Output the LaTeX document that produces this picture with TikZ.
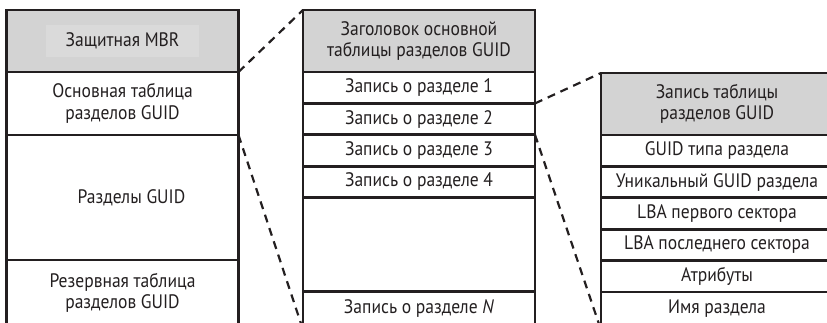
\documentclass[tikz,border=0pt]{standalone}
\usepackage{fontspec}
\setmainfont{PT Sans}[FakeStretch=0.9]
\usepackage{tikz}
\usetikzlibrary{positioning}
\definecolor{ink}{HTML}{231F20}
\definecolor{hdrgray}{HTML}{D3D3D3}
\definecolor{lblgray}{HTML}{DADADA}

\begin{document}
\begin{tikzpicture}[
  x=1pt, y=-1pt,
  cell/.style={rectangle, draw=ink, line width=2.8pt, minimum width=232pt, inner sep=0pt, outer sep=0pt,
    align=center, text=ink, font=\fontsize{19.5}{21.5}\selectfont},
  hdr/.style={cell, fill=hdrgray, minimum height=62pt},
  rec/.style={cell, minimum height=31.4pt},
  zoom/.style={dashed, draw=ink, line width=2.2pt, dash pattern=on 8pt off 6pt},
  node distance=0pt
]
\path[use as bounding box, clip] (0,0) rectangle (827,322);

% GPT disk
\node[hdr] at (122.5,41) (mbr) {};
\node[fill=lblgray, minimum width=153pt, minimum height=32pt, inner sep=0pt, text=ink,
  font=\fontsize{19.5}{21.5}\selectfont] at (mbr) (mbrlbl) {Защитная MBR};
\node[cell, minimum height=63pt, below=of mbr]   (prim)  {Основная таблица\\разделов GUID};
\node[cell, minimum height=125pt, below=of prim] (parts) {\hspace*{18pt}Разделы GUID};
\node[cell, minimum height=68pt, below=of parts, text depth=6pt] (bkp) {Резервная таблица\\разделов GUID};

% GUID partition table
\node[hdr] at (419,41) (thdr) {Заголовок основной\\таблицы разделов GUID};
\node[rec, below=of thdr] (e1) {Запись о разделе 1};
\node[rec, below=of e1]   (e2) {Запись о разделе 2};
\node[rec, below=of e2]   (e3) {Запись о разделе 3};
\node[rec, below=of e3]   (e4) {Запись о разделе 4};
\node[cell, minimum height=94pt, below=of e4] (egap) {};
\node[cell, minimum height=38pt, below=of egap, text depth=8pt] (eN) {Запись о разделе \textit{N}};

% partition entry
\node[hdr] at (717,104) (phdr) {Запись таблицы\\разделов GUID};
\node[rec, below=of phdr] (ptype) {GUID типа раздела};
\node[rec, below=of ptype] (puniq) {Уникальный GUID раздела};
\node[rec, below=of puniq] (pfirst) {LBA первого сектора};
\node[rec, below=of pfirst] (plast) {LBA последнего сектора};
\node[rec, below=of plast] (pattr) {Атрибуты};
\node[cell, minimum height=38pt, below=of pattr, text depth=8pt] (pname) {Имя раздела};

\draw[zoom] (prim.north east) -- (thdr.north west);
\draw[zoom] (parts.north east) -- (eN.south west);
\draw[zoom] (e1.south east) -- (phdr.north west);
\draw[zoom] (e2.south east) -- (pname.south west);
\end{tikzpicture}
\end{document}
